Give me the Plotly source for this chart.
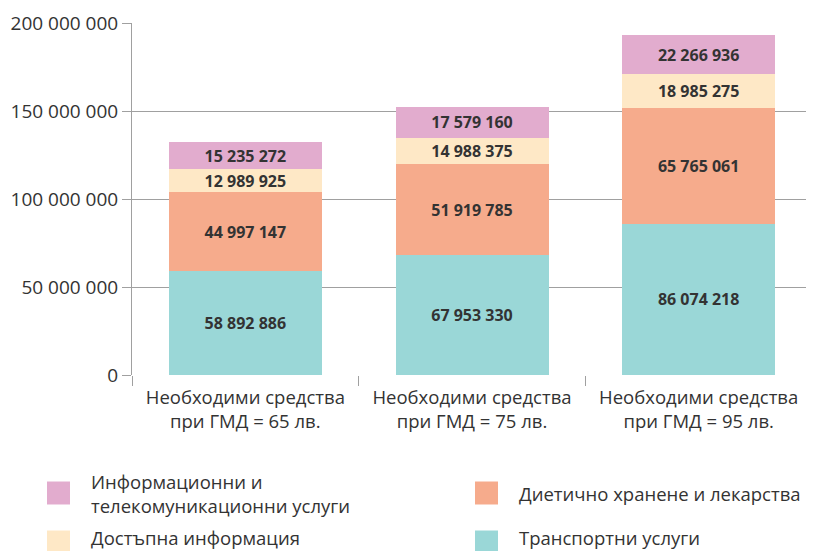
import plotly.graph_objects as go

categories = [
    "Необходими средства<br>при ГМД = 65 лв.",
    "Необходими средства<br>при ГМД = 75 лв.",
    "Необходими средства<br>при ГМД = 95 лв.",
]
series_names = [
    "Транспортни услуги",
    "Диетично хранене и лекарства",
    "Достъпна информация",
    "Информационни и<br>телекомуникационни услуги",
]
transport = [58892886, 67953330, 86074218]
diet = [44997147, 51919785, 65765061]
access_info = [12989925, 14988375, 18985275]
telecom = [15235272, 17579160, 22266936]
series_values = [transport, diet, access_info, telecom]
colors = ["#9ad7d7", "#f6ab8c", "#fee8c6", "#e2acce"]

ytick_vals = [0, 50000000, 100000000, 150000000, 200000000]

FONT = "Open Sans"
TXT = "#333333"

fig = go.Figure()
for name, vals, col in zip(series_names, series_values, colors):
    fig.add_trace(go.Bar(
        x=categories, y=vals, name=name, marker=dict(color=col, line=dict(width=0)),
        texttemplate="%{y:,d}", textposition="inside", insidetextanchor="middle",
        constraintext="none",
        textfont=dict(family=FONT, size=16, color=TXT, weight="bold"),
        showlegend=False, hoverinfo="skip",
    ))

# page body has an 8px margin; work in page pixels and convert
OFF = 8
W, H = 814 - OFF, 551 - OFF
ml, mr, mt, mb = 132 - OFF, 2, 23 - OFF, 176
pw, ph = W - ml - mr, H - mt - mb

def px_to_paper_x(px):
    return (px - OFF - ml) / pw

def px_to_paper_y(py):
    return (H - mb - (py - OFF)) / ph

# manual legend (two columns)
legend_layout = [
    (3, 0, 0),  # telecom
    (1, 1, 0),  # diet
    (2, 0, 1),  # access
    (0, 1, 1),  # transport
]
col_x = [47, 475]
row_y = [493, 542]
text_y = [493, 537]

shapes = []
annotations = []
for idx, c, r in legend_layout:
    x0 = col_x[c]
    yc = row_y[r]
    shapes.append(dict(type="rect", xref="paper", yref="paper",
                       x0=px_to_paper_x(x0), x1=px_to_paper_x(x0 + 23),
                       y0=px_to_paper_y(yc + 11.5), y1=px_to_paper_y(yc - 11.5),
                       fillcolor=colors[idx], line=dict(width=0)))
    annotations.append(dict(xref="paper", yref="paper",
                            x=px_to_paper_x(x0 + 42), y=px_to_paper_y(text_y[r]),
                            xanchor="left", yanchor="middle", align="left",
                            text=series_names[idx], showarrow=False,
                            font=dict(family=FONT, size=18.5, color=TXT)))

fig.update_layout(
    width=W, height=H, barmode="stack", bargap=0.325,
    margin=dict(l=ml, r=mr, t=mt, b=mb),
    plot_bgcolor="white", paper_bgcolor="white",
    separators=". ",
    font=dict(family=FONT, size=18.5, color=TXT),
    shapes=shapes, annotations=annotations,
)
fig.update_yaxes(
    range=[0, 200000000], tickvals=ytick_vals, tickformat=",d",
    showgrid=True, gridcolor="#a0a0a0", gridwidth=1,
    showline=True, linecolor="#a0a0a0", linewidth=1,
    ticks="outside", ticklen=9, tickcolor="#a0a0a0",
    zeroline=False, tickfont=dict(family=FONT, size=19, color=TXT),
)
fig.update_xaxes(
    type="category", showgrid=False, showline=False,
    ticks="outside", tickson="boundaries", ticklen=10, tickcolor="#a0a0a0",
    ticklabelstandoff=9,
    tickfont=dict(family=FONT, size=18.5, color=TXT),
)

fig.write_html("out.html")
